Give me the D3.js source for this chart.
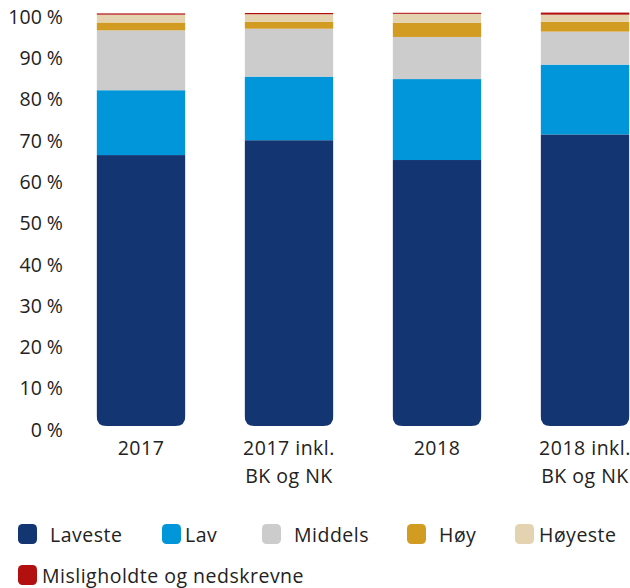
<!DOCTYPE html>
<html>
<head>
<meta charset="utf-8">
<script src="https://cdn.jsdelivr.net/npm/d3@7"></script>
<style>
  html, body { margin: 0; padding: 0; background: #fff; }
  svg { display: block; }
  text { font-family: "Open Sans", Lato, sans-serif; fill: #222; }
</style>
</head>
<body>
<svg id="chart" width="630" height="588"></svg>
<script>
// Categories (x axis)
const categories = ["2017", "2017 inkl.\nBK og NK", "2018", "2018 inkl.\nBK og NK"];

// Risk classes, bottom to top
const seriesNames = ["Laveste", "Lav", "Middels", "Høy", "Høyeste", "Misligholdte og nedskrevne"];
const seriesColors = ["#133572", "#0096d9", "#cccccc", "#d29b22", "#e4d3b0", "#b20f0f"];

// Share of portfolio (%) per risk class
const laveste      = [65.6, 69.2, 64.4, 70.6];
const lav          = [15.7, 15.4, 19.6, 16.9];
const middels      = [14.5, 11.6, 10.2,  8.0];
const hoy          = [ 1.9,  1.7,  3.4,  2.4];
const hoyeste      = [ 1.9,  1.8,  2.2,  1.7];
const misligholdte = [ 0.3,  0.3,  0.25, 0.5];

const yTicks = [0, 10, 20, 30, 40, 50, 60, 70, 80, 90, 100];

const seriesValues = [laveste, lav, middels, hoy, hoyeste, misligholdte];
const rows = categories.map((c, i) => {
  const r = { cat: c };
  seriesNames.forEach((s, k) => r[s] = seriesValues[k][i]);
  return r;
});

const FONT_SIZE = 19.5;
const LETTER_SP = 0.5;

const svg = d3.select("#chart");

const x = d3.scaleBand()
  .domain(categories)
  .range([67, 659])
  .paddingInner(0.4)
  .paddingOuter(0.2);

const y = d3.scaleLinear().domain([0, 100]).range([426, 13]);

const stack = d3.stack().keys(seriesNames);
const layers = stack(rows);

// clip path per bar: flat top, rounded bottom corners
const defs = svg.append("defs");
const r = 10;
categories.forEach((c, i) => {
  const x0 = x(c), w = x.bandwidth(), y0 = y(0), yt = y(100) - 2;
  defs.append("clipPath").attr("id", "clip" + i)
    .append("path")
    .attr("d", `M${x0},${yt} H${x0 + w} V${y0 - r} Q${x0 + w},${y0} ${x0 + w - r},${y0} H${x0 + r} Q${x0},${y0} ${x0},${y0 - r} Z`);
});

const barsG = svg.append("g");
categories.forEach((c, i) => {
  const g = barsG.append("g").attr("clip-path", `url(#clip${i})`);
  layers.forEach((layer, k) => {
    const d = layer[i];
    g.append("rect")
      .attr("x", x(c))
      .attr("width", x.bandwidth())
      .attr("y", y(d[1]))
      .attr("height", Math.max(0, y(d[0]) - y(d[1])))
      .attr("fill", seriesColors[k]);
  });
});

// y axis
const yAxis = d3.axisLeft(y)
  .tickValues(yTicks)
  .tickFormat(d => d + " %")
  .tickSize(0)
  .tickPadding(0);
const yG = svg.append("g").attr("transform", "translate(63,4)").call(yAxis);
yG.select(".domain").remove();
yG.selectAll("text")
  .attr("font-size", FONT_SIZE)
  .attr("font-family", "\"Open Sans\", Lato, sans-serif")
  .attr("fill", "#222");

// x axis labels
const xAxis = d3.axisBottom(x).tickSize(0).tickFormat("");
const xG = svg.append("g").attr("transform", `translate(0,${y(0)})`).call(xAxis);
xG.select(".domain").remove();
xG.selectAll(".tick").each(function(d) {
  const t = d3.select(this).append("text")
    .attr("text-anchor", "middle")
    .attr("font-size", FONT_SIZE)
    .attr("letter-spacing", LETTER_SP)
    .attr("y", 29);
  d.split("\n").forEach((line, j) => {
    t.append("tspan").attr("x", 0).attr("dy", j === 0 ? 0 : 28).text(line);
  });
});

// legend
const legendPos = [
  { sx: 18, tx: 50, y: 524 },
  { sx: 162, tx: 185, y: 524 },
  { sx: 262, tx: 294, y: 524 },
  { sx: 407, tx: 439, y: 524 },
  { sx: 515, tx: 539, y: 524 },
  { sx: 18, tx: 42, y: 565 }
];
const legend = svg.append("g");
seriesNames.forEach((s, k) => {
  const p = legendPos[k];
  legend.append("rect")
    .attr("x", p.sx).attr("y", p.y)
    .attr("width", 19).attr("height", 20)
    .attr("rx", 4.5)
    .attr("fill", seriesColors[k]);
  legend.append("text")
    .attr("x", p.tx).attr("y", p.y + 18)
    .attr("font-size", FONT_SIZE)
    .attr("letter-spacing", LETTER_SP)
    .text(s);
});
</script>
</body>
</html>
